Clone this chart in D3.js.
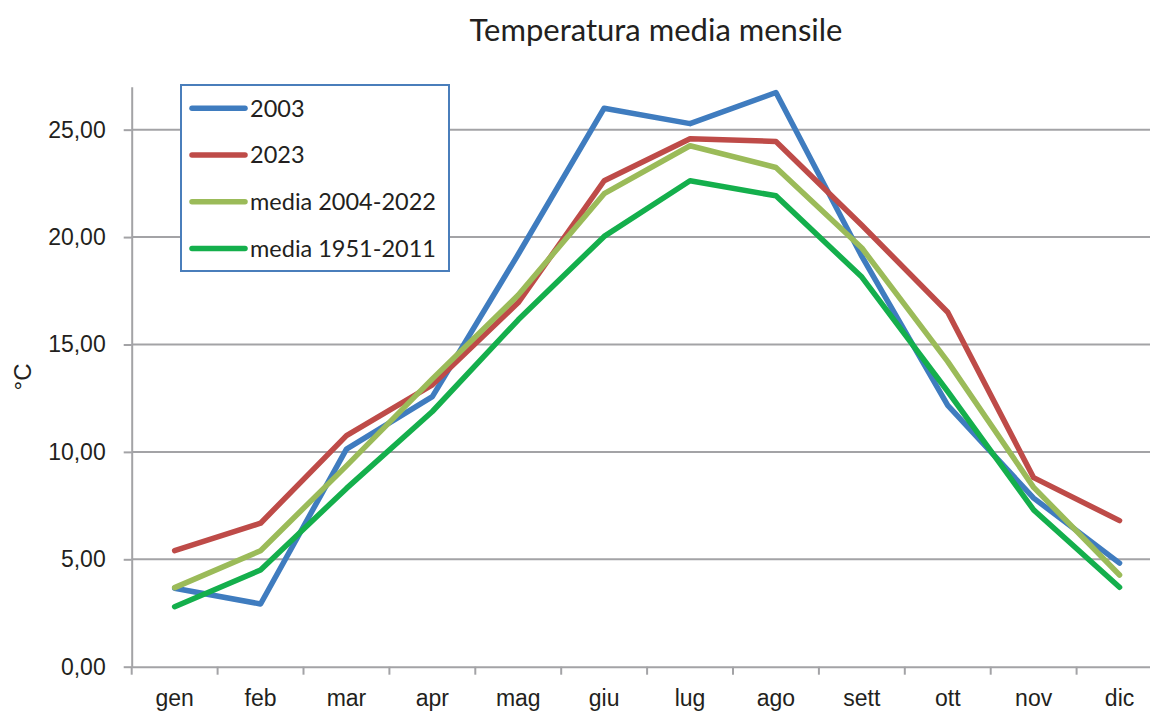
<!DOCTYPE html>
<meta charset="utf-8" />
<script src="https://d3js.org/d3.v7.min.js"></script>
<div id="chart"></div>
<script>
  // data
  const months = ["gen", "feb", "mar", "apr", "mag", "giu", "lug", "ago", "sett", "ott", "nov", "dic"];
  const y2003 = [3.65, 2.92, 10.13, 12.57, 19.2, 26.0, 25.28, 26.73, 19.1, 12.17, 7.85, 4.82];
  const y2023 = [5.4, 6.68, 10.76, 13.12, 16.95, 22.62, 24.58, 24.45, 20.55, 16.5, 8.8, 6.8];
  const media0422 = [3.68, 5.4, 9.35, 13.4, 17.3, 22.02, 24.25, 23.24, 19.49, 14.2, 8.35, 4.27];
  const media5111 = [2.79, 4.5, 8.3, 11.88, 16.15, 20.03, 22.62, 21.92, 18.14, 12.81, 7.3, 3.7];
  const seriesNames = ["2003", "2023", "media 2004-2022", "media 1951-2011"];
  const seriesColors = ["#3F7CBF", "#BE4B48", "#9BBB59", "#14AF4C"];
  const yTicks = [0, 5, 10, 15, 20, 25];

  const series = [y2003, y2023, media0422, media5111].map((vals, i) => ({
    name: seriesNames[i],
    color: seriesColors[i],
    values: vals,
  }));

  const W = 1150, H = 713;
  const plot = { left: 131.7, top: 86.7, right: 1162.5, bottom: 666.7 };
  const grey = "#A3A3A6";
  const textColor = "#231F20";

  const svg = d3
    .select("#chart")
    .append("svg")
    .attr("width", W)
    .attr("height", H);

  const x = d3.scaleBand().domain(months).range([plot.left, plot.right]).padding(0);
  const y = d3.scaleLinear().domain([0, 27]).range([plot.bottom, plot.top]);
  const cx = (m) => x(m) + x.bandwidth() / 2;

  // title
  svg
    .append("text")
    .attr("x", 656)
    .attr("y", 41)
    .attr("text-anchor", "middle")
    .style("font-family", "Lato, 'Open Sans', sans-serif")
    .style("font-size", "31px")
    .style("fill", textColor)
    .text("Temperatura media mensile");

  // gridlines
  svg
    .append("g")
    .selectAll("line")
    .data(yTicks.filter((d) => d > 0))
    .join("line")
    .attr("x1", plot.left)
    .attr("x2", plot.right)
    .attr("y1", (d) => y(d))
    .attr("y2", (d) => y(d))
    .style("stroke", grey)
    .style("stroke-width", 2);

  // y axis
  const yAxis = svg
    .append("g")
    .attr("transform", `translate(${plot.left},0)`)
    .call(
      d3
        .axisLeft(y)
        .tickValues(yTicks)
        .tickSize(8)
        .tickSizeOuter(0)
        .tickPadding(18)
        .tickFormat((d) => d3.format(".2f")(d).replace(".", ","))
    );
  yAxis.selectAll("path, line").style("stroke", grey).style("stroke-width", 2);
  yAxis
    .selectAll("text")
    .style("font-family", "'Liberation Sans', Arial, sans-serif")
    .style("font-size", "23px")
    .style("fill", textColor);

  // x axis
  const xAxis = svg
    .append("g")
    .attr("transform", `translate(0,${plot.bottom})`)
    .call(d3.axisBottom(x).tickSize(0).tickSizeOuter(0).tickPadding(23));
  xAxis.select(".domain").style("stroke", grey).style("stroke-width", 2);
  xAxis
    .selectAll("text")
    .style("font-family", "'Liberation Sans', Arial, sans-serif")
    .style("font-size", "23px")
    .style("fill", textColor);

  // x tick marks at category boundaries
  svg
    .append("g")
    .selectAll("line")
    .data(months.map((m) => x(m)).concat([plot.right]))
    .join("line")
    .attr("x1", (d) => d)
    .attr("x2", (d) => d)
    .attr("y1", plot.bottom)
    .attr("y2", plot.bottom + 8)
    .style("stroke", grey)
    .style("stroke-width", 2);

  // y axis title
  svg
    .append("text")
    .attr("transform", "translate(31,377) rotate(-90)")
    .attr("text-anchor", "middle")
    .style("font-family", "'Liberation Sans', Arial, sans-serif")
    .style("font-size", "24px")
    .style("fill", textColor)
    .text("°C");

  // lines
  const line = d3
    .line()
    .x((d, i) => cx(months[i]))
    .y((d) => y(d));

  svg
    .append("g")
    .selectAll("path")
    .data(series)
    .join("path")
    .attr("d", (d) => line(d.values))
    .style("fill", "none")
    .style("stroke", (d) => d.color)
    .style("stroke-width", 5.5)
    .style("stroke-linejoin", "round")
    .style("stroke-linecap", "round");

  // legend
  const legend = svg.append("g");
  legend
    .append("rect")
    .attr("x", 181)
    .attr("y", 85)
    .attr("width", 268)
    .attr("height", 186)
    .style("fill", "white")
    .style("stroke", "#4A7EBB")
    .style("stroke-width", 2);

  const items = legend
    .selectAll("g.item")
    .data(series)
    .join("g")
    .attr("class", "item")
    .attr("transform", (d, i) => `translate(0,${108.3 + i * 46.7})`);

  items
    .append("line")
    .attr("x1", 192)
    .attr("x2", 245)
    .style("stroke", (d) => d.color)
    .style("stroke-width", 5.5)
    .style("stroke-linecap", "round");

  items
    .append("text")
    .attr("x", 250)
    .attr("dy", "0.35em")
    .style("font-family", "Lato, 'Open Sans', sans-serif")
    .style("font-size", "23.5px")
    .style("fill", textColor)
    .text((d) => d.name);
</script>
<style>
  body {
    margin: 0;
    background-color: white;
  }
</style>
